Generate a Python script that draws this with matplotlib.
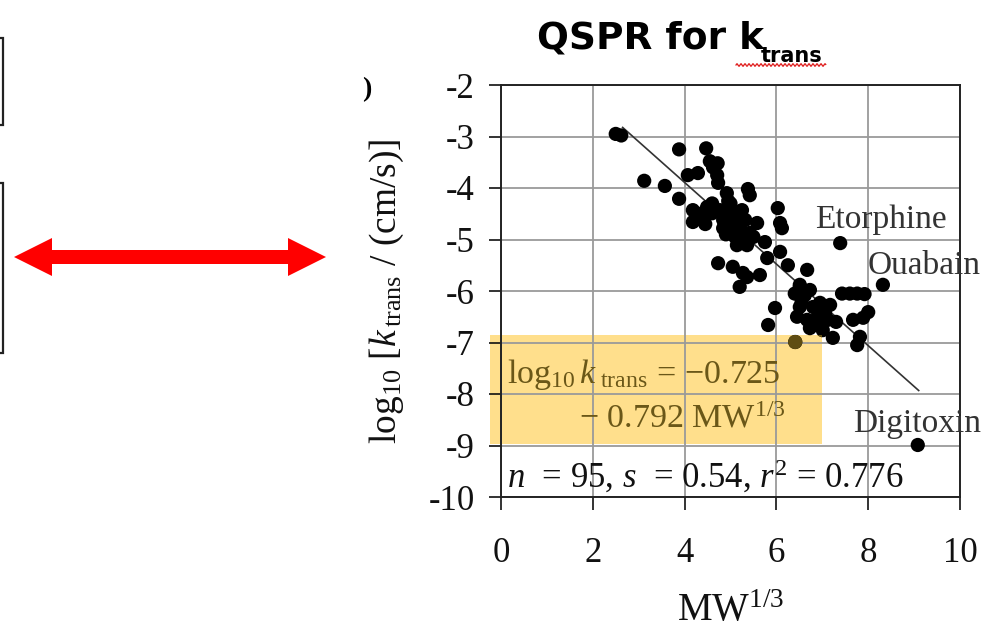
import numpy as np
import matplotlib
matplotlib.use("Agg")
import matplotlib.pyplot as plt
from matplotlib.patches import Rectangle, Polygon
from matplotlib.lines import Line2D

plt.rcParams['font.family'] = ['Liberation Serif', 'DejaVu Serif']
plt.rcParams['mathtext.fontset'] = 'custom'
plt.rcParams['mathtext.rm'] = 'Liberation Serif'
plt.rcParams['mathtext.it'] = 'Liberation Serif:italic'
plt.rcParams['mathtext.bf'] = 'Liberation Serif:bold'
plt.rcParams['axes.unicode_minus'] = False

# ---------------- data ----------------
mw13 = [2.50, 2.62, 3.12, 3.57, 3.88, 3.88, 4.07, 4.29, 4.47, 4.55,
        4.72, 4.62, 4.71, 4.73, 4.92, 5.38, 5.42, 4.18, 4.18, 4.40,
        4.49, 4.60, 4.77, 4.84, 4.99, 5.10, 5.25, 5.32, 4.84, 5.10,
        5.27, 5.42, 5.58, 5.14, 5.36, 5.75, 5.80, 6.03, 6.08, 6.12,
        6.08, 4.73, 5.05, 5.27, 5.20, 5.36, 5.64, 6.25, 6.67, 6.51,
        6.73, 7.39, 8.32, 7.43, 7.60, 7.76, 7.92, 8.00, 7.89, 7.67,
        7.82, 7.76, 7.23, 6.41, 9.08, 5.97, 5.82, 6.51, 6.62, 6.51,
        6.45, 6.67, 6.80, 6.95, 7.06, 7.12, 6.88, 7.01, 6.73, 7.17,
        4.95, 5.05, 4.90, 5.20, 4.60, 5.00, 4.30, 4.45, 5.50, 6.40,
        6.55, 6.90, 7.30, 4.95, 5.15]
logk = [-2.95, -2.98, -3.86, -3.96, -3.25, -4.21, -3.75, -3.71, -3.23, -3.48,
        -3.52, -3.60, -3.75, -3.90, -4.10, -4.02, -4.14, -4.43, -4.66, -4.62,
        -4.37, -4.49, -4.43, -4.62, -4.47, -4.58, -4.43, -4.62, -4.78, -4.95,
        -5.05, -4.87, -4.68, -5.11, -5.11, -5.05, -5.36, -4.39, -4.68, -4.78,
        -5.24, -5.46, -5.53, -5.65, -5.92, -5.73, -5.69, -5.50, -5.59, -5.92,
        -5.98, -5.07, -5.88, -6.05, -6.05, -6.05, -6.06, -6.41, -6.52, -6.56,
        -6.89, -7.05, -6.91, -6.99, -8.99, -6.33, -6.66, -5.88, -6.08, -6.31,
        -6.50, -6.56, -6.31, -6.23, -6.43, -6.56, -6.66, -6.76, -6.72, -6.27,
        -4.55, -4.70, -4.90, -4.75, -4.30, -4.30, -4.50, -4.70, -4.95, -6.05,
        -6.20, -6.50, -6.60, -4.25, -4.85]

named = ['Etorphine', 'Ouabain', 'Digitoxin']
named_x = [7.39, 8.32, 9.08]
named_y = [-5.07, -5.88, -8.99]

intercept = -0.725
slope = -0.792
fit_range = [2.65, 9.1]

x_ticks = [0, 2, 4, 6, 8, 10]
y_ticks = [-2, -3, -4, -5, -6, -7, -8, -9, -10]

# ---------------- figure ----------------
W, H = 984, 633
fig = plt.figure(figsize=(W / 100, H / 100), dpi=100)
fig.patch.set_facecolor('white')


def fx(x):
    return x / W


def fy(y):
    return 1 - y / H


ax = fig.add_axes([fx(501), fy(497), fx(960) - fx(501), fy(85) - fy(497)])
ax.set_facecolor('none')
ax.set_xlim(0, 10)
ax.set_ylim(-10, -2)
ax.set_xticks(x_ticks)
ax.set_yticks(y_ticks)
ax.grid(True, color='#9a9a9a', lw=1.3, zorder=0)
ax.set_axisbelow(True)
for s in ax.spines.values():
    s.set_linewidth(1.4)
    s.set_color('#222222')
ax.tick_params(axis='both', direction='out', length=9, width=1.2,
               labelsize=25, colors='#111111')
ax.tick_params(axis='y', pad=10)
ax.tick_params(axis='x', pad=20)

ax.set_xlabel(r'MW$^{1/3}$', fontsize=28, labelpad=16, color='#111111')
ax.set_ylabel(r'log$_{10}$ [$k_{\rm\,trans}$ / (cm/s)]', fontsize=27,
              labelpad=16, color='#111111')

# yellow highlight box (behind the transparent axes)
yel = Rectangle((fx(490), fy(444)), fx(822) - fx(490), fy(335) - fy(444),
                transform=fig.transFigure, facecolor='#FFDF8C',
                edgecolor='none', zorder=-5)
fig.patches.append(yel)

# regression line
xf = np.array(fit_range)
ax.plot(xf, intercept + slope * xf, color='#333333', lw=1.2, zorder=2)

# points
ax.scatter(mw13, logk, s=105, color='black', edgecolors='none', zorder=3)
sc2 = ax.scatter(mw13, logk, s=105, color='#5f4d12', edgecolors='none', zorder=4)
clip = Rectangle((fx(490), fy(444)), fx(822) - fx(490), fy(335) - fy(444),
                 transform=fig.transFigure, facecolor='none', edgecolor='none')
sc2.set_clip_path(clip)

offs = [(-25, 15), (-15, 11), (-65, 13)]
for name, x, y, o in zip(named, named_x, named_y, offs):
    ax.annotate(name, (x, y), xytext=o, textcoords='offset pixels',
                fontsize=24, color='#333333', ha='left', va='baseline',
                annotation_clip=False)

# equation text
olive = '#6a5718'
fig.text(fx(507), fy(383), r'log$_{10}\,k_{\rm\ trans}$$\,=\,$$-$0.725', fontsize=24.5,
         color=olive, ha='left', va='baseline')
fig.text(fx(786), fy(428), r'$-$ 0.792 MW$^{1/3}$', fontsize=24.5,
         color=olive, ha='right', va='baseline')
fig.text(fx(507), fy(488), r'$n$  = 95, $s$  = 0.54, $r^2$ = 0.776', fontsize=25,
         color='#111111', ha='left', va='baseline')

# title
t1 = fig.text(fx(537), fy(49), 'QSPR for k', fontfamily='DejaVu Sans',
              fontweight='bold', fontsize=27, color='black', ha='left',
              va='baseline')
fig.canvas.draw()
r = fig.canvas.get_renderer()
bb = t1.get_window_extent(r)
x_sub = bb.x1 - 3
t2 = fig.text(x_sub / W, fy(62), 'trans', fontfamily='DejaVu Sans',
              fontweight='bold', fontsize=15, color='black', ha='left',
              va='baseline')
bb2 = t2.get_window_extent(r)
# spell-check squiggle
xs = np.linspace(bb.x1 - 28, bb2.x1 + 3, 140)
ys = (H - 65) + 1.3 * np.sin((xs - xs[0]) / 4.0 * 2 * np.pi)
fig.add_artist(Line2D(xs / W, ys / H, transform=fig.transFigure,
                      color='#e02020', lw=0.9))

# left boxes (cut by the image edge)
for (y0, y1) in [(38, 125), (183, 353)]:
    fig.patches.append(Rectangle((fx(-20), fy(y1)), fx(23), fy(y0) - fy(y1),
                                 transform=fig.transFigure, facecolor='white',
                                 edgecolor='#222222', lw=1.6))

# red double arrow
yc, hs, hh = 257, 7, 19
L, R, hl = 14, 326, 38
pts = [(L, yc), (L + hl, yc - hh), (L + hl, yc - hs), (R - hl, yc - hs),
       (R - hl, yc - hh), (R, yc), (R - hl, yc + hh), (R - hl, yc + hs),
       (L + hl, yc + hs), (L + hl, yc + hh)]
fig.patches.append(Polygon([(fx(x), fy(y)) for x, y in pts], closed=True,
                           transform=fig.transFigure, facecolor='#ff0000',
                           edgecolor='none'))

# partial glyph at upper left of the y-label area
fig.text(fx(362), fy(96), ')', fontsize=20, fontweight='bold', color='black',
         ha='left', va='baseline')

fig.savefig('out.png', dpi=100)
